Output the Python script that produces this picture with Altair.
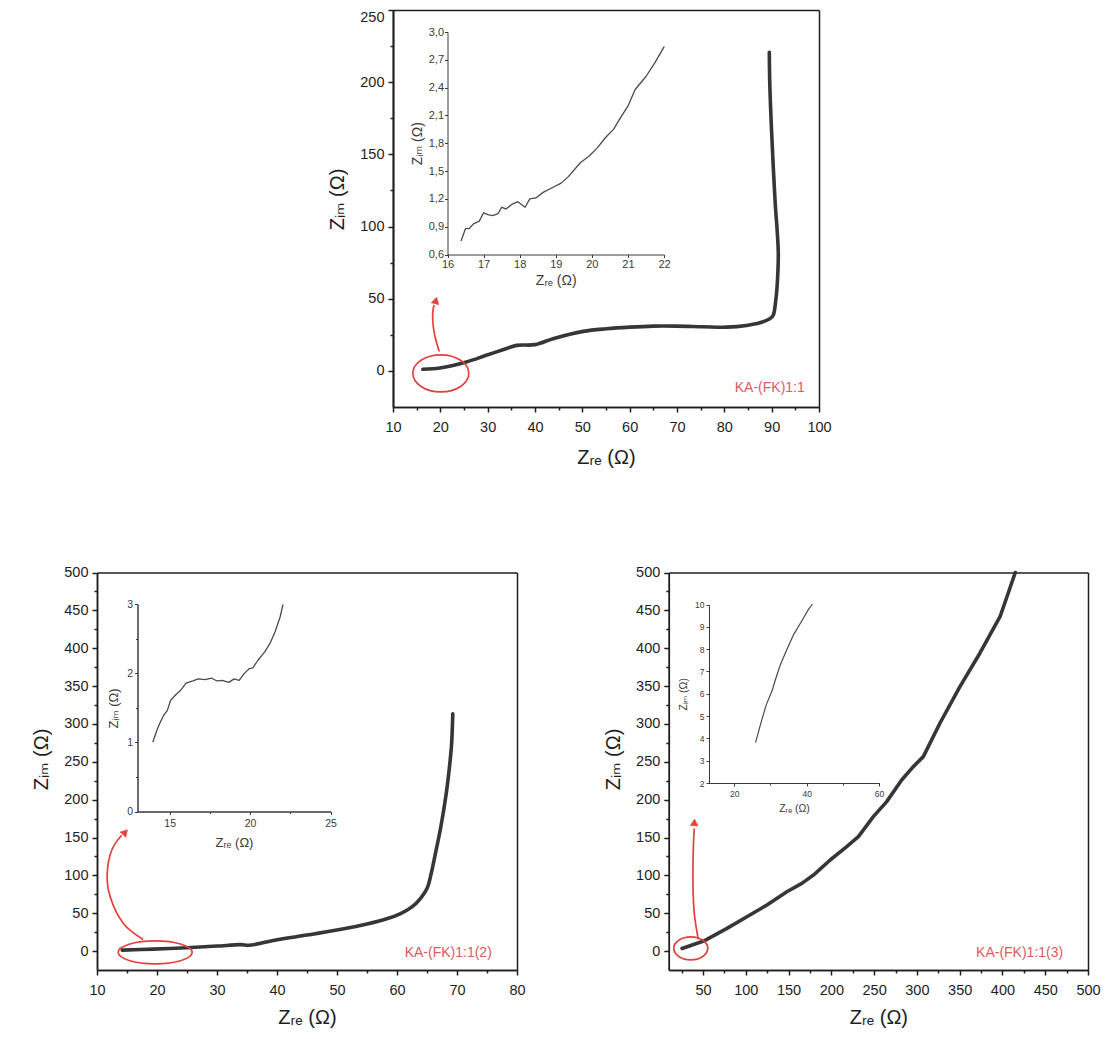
import altair as alt
import pandas as pd

# ---------------- data ----------------
# Top panel: KA-(FK)1:1
P1_ZRE = [16.3, 19.9, 25.5, 29.7, 34.0, 36.1, 40.0, 43.8, 50.2, 55.1, 60.0, 65.0, 69.9, 75.5,
          80.5, 84.7, 87.5, 89.6, 90.3, 90.9, 91.2, 91.4, 90.7, 90.0, 89.6, 89.5]
P1_ZIM = [1.1, 2.0, 6.2, 10.8, 15.5, 17.7, 18.2, 22.3, 27.4, 29.2, 30.3, 31.0, 31.0, 30.6,
          30.3, 31.5, 33.3, 36.1, 38.4, 49.9, 61.4, 82.0, 118.9, 164.8, 199.3, 220.7]
I1_ZRE = [16.38, 16.5, 16.6, 16.72, 16.88, 17.0, 17.12, 17.25, 17.4, 17.5, 17.62, 17.78, 17.95,
          18.15, 18.28, 18.45, 18.65, 18.9, 19.15, 19.35, 19.68, 19.92, 20.15, 20.4, 20.6, 20.8,
          21.0, 21.2, 21.5, 21.75, 22.0]
I1_ZIM = [0.75, 0.88, 0.88, 0.93, 0.96, 1.05, 1.03, 1.02, 1.04, 1.11, 1.09, 1.14, 1.17,
          1.11, 1.20, 1.21, 1.27, 1.32, 1.37, 1.44, 1.59, 1.66, 1.75, 1.87, 1.95, 2.08,
          2.20, 2.38, 2.52, 2.67, 2.84]

# Bottom-left panel: KA-(FK)1:1(2)
P2_ZRE = [14.2, 19.4, 25.0, 30.0, 34.0, 35.3, 40.0, 45.0, 50.0, 55.0, 58.3, 60.6, 62.5, 63.9,
          65.0, 65.7, 66.4, 67.3, 68.2, 68.8, 69.1, 69.3]
P2_ZIM = [1.3, 2.6, 4.4, 6.6, 8.5, 7.6, 14.9, 21.1, 27.7, 35.6, 42.6, 49.6, 58.4, 69.4,
          82.6, 102.4, 128.7, 163.9, 207.8, 247.4, 273.7, 313.3]
I2_ZRE = [13.96, 14.21, 14.43, 14.64, 14.85, 15.06, 15.38, 15.70, 16.02, 16.45, 16.77, 17.19,
          17.62, 17.94, 18.26, 18.68, 19.0, 19.32, 19.64, 19.96, 20.17, 20.49, 20.91, 21.23,
          21.55, 21.87, 22.04]
I2_ZIM = [1.01, 1.18, 1.30, 1.40, 1.46, 1.61, 1.69, 1.76, 1.86, 1.89, 1.92, 1.91,
          1.93, 1.89, 1.90, 1.87, 1.92, 1.90, 2.00, 2.07, 2.08, 2.19, 2.31, 2.43,
          2.60, 2.82, 2.99]

# Bottom-right panel: KA-(FK)1:1(3)
P3_ZRE = [25.5, 50.8, 78.0, 101.3, 124.7, 148.0, 165.5, 179.1, 198.6, 218.0, 231.6, 249.1,
          264.7, 282.2, 295.8, 307.5, 326.9, 350.3, 373.6, 397.3, 415.0]
P3_ZIM = [3.5, 13.2, 30.0, 45.4, 60.8, 78.4, 89.4, 100.4, 120.3, 137.9, 151.1, 177.5,
          197.4, 226.0, 243.6, 256.8, 300.9, 349.3, 393.4, 441.9, 500.0]
I3_ZRE = [25.9, 27.3, 28.8, 30.5, 31.4, 32.7, 34.5, 36.4, 38.6, 40.5, 41.5]
I3_ZIM = [3.83, 4.66, 5.49, 6.17, 6.65, 7.29, 7.97, 8.65, 9.25, 9.78, 10.0]

# annotations (in data units of each main panel)
LABELS = ["KA-(FK)1:1", "KA-(FK)1:1(2)", "KA-(FK)1:1(3)"]
LABEL_X = [97.0, 75.8, 471.0]
LABEL_Y = [-12.0, -2.6, -2.6]
ELL_X = [20.1, 19.7, 35.7]
ELL_Y = [-1.7, -1.7, 3.6]
ARROW1_X = [19.78, 18.87, 18.39, 18.51, 18.75]
ARROW1_Y = [13.4, 23.8, 35.3, 43.4, 45.5]
ARROW2_X = [17.7, 14.4, 12.2, 11.7, 12.45, 14.1]
ARROW2_Y = [15.4, 36.5, 71.6, 102.5, 133.2, 153.0]
ARROW3_X = [44.5, 39.8, 38.2, 38.7, 39.8]
ARROW3_Y = [15.5, 49.8, 93.8, 137.8, 162.0]
HEAD_X = [19.05, 14.7, 39.9]
HEAD_Y = [48.8, 157.0, 170.0]

# ---------------- layout / style ----------------
W, H = 1095, 1023
FONT = "Liberation Sans, Arial, DejaVu Sans, sans-serif"
RED = "#e2413d"
RED_TXT = "#d95a63"
DARK = "#1e1e1e"
XT = "Z\u1d63\u2091 (\u03a9)"
YT = "Z\u1d62\u2098 (\u03a9)"


def sc(dom, rng):
    return alt.Scale(domain=dom, range=rng, nice=False, zero=False)


def ax(orient, off, st, *, values=None, labels=True, ticks=True, tick=None,
       title=None, lpad=2, tpad=4, expr=None, title_y=None, loff=None):
    kw = dict(orient=orient, offset=off, labels=labels, ticks=ticks, domain=True,
              domainColor=st["color"], domainWidth=st["lw"], grid=False, title=title,
              labelFont=FONT, labelFontSize=st["lsize"], labelColor=st["color"],
              labelPadding=lpad, labelFlush=False, labelOverlap=False,
              titleFont=FONT, titleFontSize=st["tsize"], titleColor=st["color"],
              titleFontWeight="normal", titlePadding=tpad)
    if ticks:
        kw.update(tickSize=tick if tick is not None else st["tick"],
                  tickColor=st["color"], tickWidth=st["lw"])
    if values is not None:
        kw["values"] = values
    if expr:
        kw["labelExpr"] = expr
    if title_y is not None:
        kw["titleY"] = title_y
    if loff is not None:
        kw["labelOffset"] = loff
    return alt.Axis(**kw)


MAIN = dict(color=DARK, lw=1.5, tick=5, mtick=3, lsize=14.5, tsize=20,
            xlpad=8, ylpad=4, xtpad=14, ytpad=12, line="#363636", linew=3.6)
IN1 = dict(color="#3a3a3a", lw=1, tick=3, mtick=2, lsize=11, tsize=14,
           xlpad=0.5, ylpad=1, xtpad=4, ytpad=4, line="#4a4a4a", linew=1.3)
IN2 = dict(color="#3a3a3a", lw=1, tick=3, mtick=2, lsize=10.5, tsize=13,
           xlpad=3.5, ylpad=2, xtpad=8, ytpad=6, line="#4a4a4a", linew=1.3)
IN3 = dict(color="#3a3a3a", lw=1, tick=3, mtick=2, lsize=8.5, tsize=10.5,
           xlpad=3, ylpad=2, xtpad=6, ytpad=6, line="#4a4a4a", linew=1.2)


def frame_df(xs, ys):
    d = pd.DataFrame({"zre": xs, "zim": ys})
    d["i"] = range(len(d))
    return d


def plot_layers(df, xdom, xr, ydom, yr, st, *, xmaj, ymaj, xmin=None, ymin=None,
                frame=False, yexpr=None, interp="linear", title_y=None, xtpad=None,
                top_label=None):
    xb = yr[0] - H
    yl = -xr[0]
    out = []
    out.append(
        alt.Chart(df).mark_line(color=st["line"], strokeWidth=st["linew"],
                                strokeJoin="round", strokeCap="round",
                                interpolate=interp).encode(
            x=alt.X("zre:Q", scale=sc(xdom, xr),
                    axis=ax("bottom", xb, st, values=xmaj, title=XT,
                            lpad=st["xlpad"],
                            tpad=xtpad if xtpad is not None else st["xtpad"])),
            y=alt.Y("zim:Q", scale=sc(ydom, yr),
                    axis=ax("left", yl, st, values=ymaj, title=YT,
                            lpad=st["ylpad"], tpad=st["ytpad"], expr=yexpr,
                            title_y=title_y)),
            order=alt.Order("i:Q"),
        )
    )
    if xmin or ymin:
        out.append(
            alt.Chart(df).mark_point(opacity=0).encode(
                x=alt.X("zre:Q", scale=sc(xdom, xr),
                        axis=ax("bottom", xb, st, values=xmin, labels=False,
                                tick=st["mtick"]) if xmin else None),
                y=alt.Y("zim:Q", scale=sc(ydom, yr),
                        axis=ax("left", yl, st, values=ymin, labels=False,
                                tick=st["mtick"]) if ymin else None),
            )
        )
    if top_label is not None:
        # highest y label nudged down so it stays inside the page
        out.append(
            alt.Chart(df).mark_point(opacity=0).encode(
                x=alt.X("zre:Q", scale=sc(xdom, xr), axis=None),
                y=alt.Y("zim:Q", scale=sc(ydom, yr),
                        axis=ax("left", yl, st, values=[top_label[0]],
                                lpad=st["ylpad"], loff=top_label[1])),
            )
        )
    if frame:
        out.append(
            alt.Chart(df).mark_point(opacity=0).encode(
                x=alt.X("zre:Q", scale=sc(xdom, xr),
                        axis=ax("top", -yr[1], st, labels=False, ticks=False)),
                y=alt.Y("zim:Q", scale=sc(ydom, yr),
                        axis=ax("right", xr[1] - W, st, labels=False, ticks=False)),
            )
        )
    return out


def annot_layers(k, xdom, xr, ydom, yr, ax_, ay_, ew, eh, angle):
    X = lambda: alt.X("zre:Q", scale=sc(xdom, xr), axis=None)
    Y = lambda: alt.Y("zim:Q", scale=sc(ydom, yr), axis=None)
    r = eh / ew
    path = f"M -1 0 A 1 {r:.3f} 0 1 1 1 0 A 1 {r:.3f} 0 1 1 -1 0 Z"
    ell = alt.Chart(frame_df([ELL_X[k]], [ELL_Y[k]])).mark_point(
        shape=path, size=ew * ew, filled=False, stroke=RED, strokeWidth=1.7, opacity=1
    ).encode(x=X(), y=Y())
    arr = alt.Chart(frame_df(ax_, ay_)).mark_line(
        color=RED, strokeWidth=1.7, interpolate="natural"
    ).encode(x=X(), y=Y(), order=alt.Order("i:Q"))
    head = alt.Chart(frame_df([HEAD_X[k]], [HEAD_Y[k]])).mark_point(
        shape="triangle-up", size=60, filled=True, fill=RED, stroke=RED,
        strokeWidth=0.5, opacity=1, angle=angle
    ).encode(x=X(), y=Y())
    lab = alt.Chart(pd.DataFrame({"zre": [LABEL_X[k]], "zim": [LABEL_Y[k]],
                                  "t": [LABELS[k]]})).mark_text(
        align="right", baseline="middle", font=FONT, fontSize=14, color=RED_TXT
    ).encode(x=X(), y=Y(), text="t:N")
    return [ell, arr, head, lab]


def rng(a, b, s):
    out, v = [], a
    while v <= b + 1e-9:
        out.append(round(v, 4))
        v += s
    return out


layers = []
# ----- top panel -----
P1X, P1XR, P1Y, P1YR = [10, 100], [385, 811], [-25, 250], [399, 2]
layers += plot_layers(frame_df(P1_ZRE, P1_ZIM), P1X, P1XR, P1Y, P1YR, MAIN,
                      xmaj=rng(10, 100, 10), ymaj=rng(0, 200, 50),
                      xmin=rng(15, 95, 10), ymin=rng(25, 225, 50), frame=True,
                      interp="catmull-rom", title_y=191, top_label=(250, 7))
layers += plot_layers(frame_df(I1_ZRE, I1_ZIM), [16, 22], [439.5, 656], [0.6, 3.0],
                      [246.5, 24], IN1, xmaj=rng(16, 22, 1), ymaj=rng(0.6, 3.0, 0.3),
                      yexpr="replace(format(datum.value, '.1f'), '.', ',')")
layers += annot_layers(0, P1X, P1XR, P1Y, P1YR, ARROW1_X, ARROW1_Y, 56, 37, 14)

# ----- bottom-left panel -----
P2X, P2XR, P2Y, P2YR = [10, 80], [89, 509], [-25, 500], [962, 564.5]
layers += plot_layers(frame_df(P2_ZRE, P2_ZIM), P2X, P2XR, P2Y, P2YR, MAIN,
                      xmaj=rng(10, 80, 10), ymaj=rng(0, 500, 50),
                      xmin=rng(15, 75, 10), ymin=rng(25, 475, 50), frame=True,
                      interp="catmull-rom", title_y=751, xtpad=11)
layers += plot_layers(frame_df(I2_ZRE, I2_ZIM), [13, 25], [129.5, 322.5], [0, 3],
                      [803.5, 596.3], IN2, xmaj=[15, 20, 25], ymaj=[0, 1, 2, 3],
                      xmin=[17.5, 22.5], ymin=[0.5, 1.5, 2.5])
layers += annot_layers(1, P2X, P2XR, P2Y, P2YR, ARROW2_X, ARROW2_Y, 74, 23, 42)

# ----- bottom-right panel -----
P3X, P3XR, P3Y, P3YR = [10, 500], [660.8, 1080], [-25, 500], [962, 564.5]
layers += plot_layers(frame_df(P3_ZRE, P3_ZIM), P3X, P3XR, P3Y, P3YR, MAIN,
                      xmaj=rng(50, 500, 50), ymaj=rng(0, 500, 50),
                      xmin=rng(25, 475, 50), ymin=rng(25, 475, 50), frame=True,
                      title_y=751, xtpad=11)
layers += plot_layers(frame_df(I3_ZRE, I3_ZIM), [13, 60], [701, 871], [2, 10],
                      [775, 596.5], IN3, xmaj=[20, 40, 60], ymaj=rng(2, 10, 1),
                      xmin=[30, 50])
layers += annot_layers(2, P3X, P3XR, P3Y, P3YR, ARROW3_X, ARROW3_Y, 34, 23, 4)

chart = (
    alt.layer(*layers)
    .resolve_scale(x="independent", y="independent")
    .properties(width=W, height=H, autosize=alt.AutoSizeParams(type="none"), padding=0)
    .configure_view(stroke=None)
)

chart.save("out.html", embed_options={"renderer": "svg", "actions": False})
